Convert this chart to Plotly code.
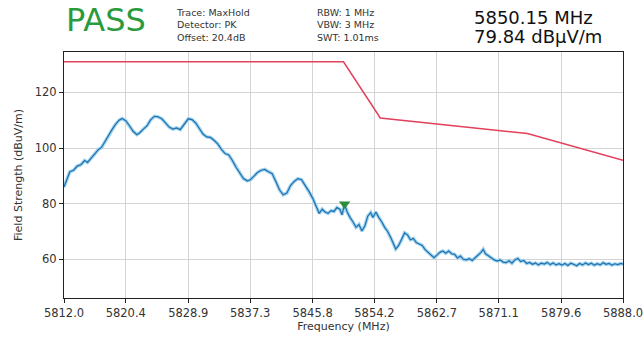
import plotly.graph_objects as go

# measured trace (MaxHold, PK)
freq = [5812.0, 5812.4, 5812.8, 5813.3, 5813.8, 5814.3, 5814.8, 5815.2, 5815.7, 5816.2,
        5816.7, 5817.1, 5817.6, 5818.0, 5818.5, 5819.0, 5819.5, 5819.9, 5820.4, 5820.9,
        5821.4, 5821.9, 5822.3, 5822.8, 5823.3, 5823.8, 5824.3, 5824.8, 5825.3, 5825.8,
        5826.3, 5826.8, 5827.3, 5827.8, 5828.3, 5828.9, 5829.4, 5829.9, 5830.4, 5830.9,
        5831.4, 5831.9, 5832.4, 5832.9, 5833.4, 5833.9, 5834.4, 5834.9, 5835.4, 5835.9,
        5836.4, 5836.9, 5837.3, 5837.8, 5838.3, 5838.8, 5839.3, 5839.8, 5840.3, 5840.8,
        5841.3, 5841.8, 5842.3, 5842.8, 5843.3, 5843.8, 5844.3, 5844.8, 5845.3, 5845.8,
        5846.3, 5846.7, 5847.1, 5847.5, 5847.9, 5848.3, 5848.7, 5849.1, 5849.5, 5849.8,
        5850.15, 5850.5, 5850.9, 5851.3, 5851.7, 5852.1, 5852.5, 5852.9, 5853.3, 5853.7,
        5854.0, 5854.4, 5854.8, 5855.2, 5855.6, 5856.0, 5856.4, 5856.8, 5857.1, 5857.5,
        5857.9, 5858.3, 5858.7, 5859.1, 5859.5, 5859.9, 5860.3, 5860.7, 5861.1, 5861.5,
        5861.9, 5862.3, 5862.7, 5863.1, 5863.5, 5863.9, 5864.3, 5864.7, 5865.1, 5865.5,
        5865.9, 5866.3, 5866.7, 5867.1, 5867.5, 5867.9, 5868.3, 5868.7, 5869.0, 5869.3,
        5869.7, 5870.1, 5870.5, 5870.9, 5871.3, 5871.7, 5872.1, 5872.5, 5872.9, 5873.3,
        5873.7, 5874.1, 5874.5, 5874.9, 5875.3, 5875.7, 5876.1, 5876.5, 5876.9, 5877.3,
        5877.7, 5878.1, 5878.5, 5878.9, 5879.3, 5879.7, 5880.1, 5880.5, 5880.9, 5881.3,
        5881.7, 5882.1, 5882.5, 5882.9, 5883.3, 5883.7, 5884.1, 5884.5, 5884.9, 5885.3,
        5885.7, 5886.1, 5886.5, 5886.9, 5887.3, 5887.7, 5888.0]
level = [86.0, 88.5, 91.5, 92.0, 93.5, 94.0, 95.5, 94.8, 96.5, 98.0,
         99.5, 100.2, 102.5, 104.5, 106.5, 108.5, 110.0, 110.6, 109.8, 108.0,
         106.0, 104.8, 105.5, 106.8, 108.0, 110.2, 111.4, 111.2, 110.5, 109.0,
         107.5, 106.8, 107.2, 106.6, 108.5, 110.5, 110.2, 109.0, 107.0, 105.0,
         104.0, 103.8, 102.8, 101.5, 99.5, 98.0, 97.5, 95.5, 93.0, 91.0,
         89.0, 88.2, 88.5, 89.8, 91.2, 92.0, 92.3, 91.5, 90.8, 88.0,
         85.0, 83.2, 83.8, 86.5, 88.0, 89.0, 88.6, 86.5, 84.5, 82.0,
         79.0, 76.5, 78.0, 77.0, 76.5, 77.5, 77.2, 78.6, 78.0, 76.0,
         79.84, 77.0, 75.0, 73.5, 71.5, 72.5, 70.2, 72.0, 75.5, 76.8,
         75.0, 77.0, 75.0, 73.5, 71.5, 70.0, 68.0, 65.5, 63.7, 65.0,
         67.0, 69.5, 68.8, 67.0, 67.5, 66.0, 65.5, 65.0, 63.5, 62.5,
         61.5, 60.6, 61.5, 62.5, 63.0, 62.2, 63.0, 62.0, 61.8, 60.5,
         61.2, 60.0, 59.8, 60.2, 59.6, 60.5, 61.5, 62.5, 63.6, 62.0,
         61.3, 60.5, 59.8, 59.4, 59.8, 59.0, 58.8, 59.5, 58.6, 59.8,
         60.3, 59.2, 59.6, 58.5, 58.9, 58.2, 58.7, 58.0, 58.6, 58.3,
         58.9, 58.1, 58.7, 58.0, 58.4, 57.9, 58.5, 57.8, 58.6, 58.2,
         57.7, 58.5, 58.0, 58.7, 58.1, 58.6, 57.9, 58.4, 58.0, 58.8,
         58.2, 58.5, 57.9, 58.4, 58.1, 58.5, 58.3]

# limit mask
limit_freq = [5812.0, 5850.0, 5855.0, 5875.0, 5888.0]
limit_level = [131.0, 131.0, 110.8, 105.2, 95.6]

marker_freq = [5850.15]
marker_level = [79.84]

tick_vals = [5812.0, 5820.4, 5828.9, 5837.3, 5845.8, 5854.2, 5862.7, 5871.1, 5879.6, 5888.0]
tick_text = ['5812.0', '5820.4', '5828.9', '5837.3', '5845.8', '5854.2', '5862.7', '5871.1', '5879.6', '5888.0']

fig = go.Figure()

# light halo under the trace
fig.add_trace(go.Scatter(x=freq, y=level, mode='lines',
                         line=dict(color='#9fd3ee', width=3.5), hoverinfo='skip'))
fig.add_trace(go.Scatter(x=freq, y=level, mode='lines',
                         line=dict(color='#1f6fae', width=1.2)))
fig.add_trace(go.Scatter(x=limit_freq, y=limit_level, mode='lines',
                         line=dict(color='#e3405c', width=1.5)))
fig.add_trace(go.Scatter(x=marker_freq, y=marker_level, mode='markers',
                         marker=dict(symbol='triangle-down', color='#2e8b3a', size=10)))

axis_common = dict(showline=True, linecolor='#222222', linewidth=1, mirror=True,
                   showgrid=True, gridcolor='#d4d4d4', gridwidth=1, automargin=False,
                   ticks='outside', ticklen=4, tickcolor='#222222', zeroline=False,
                   tickfont=dict(size=11.5, color='#333333'))

fig.update_xaxes(range=[5812, 5888], tickvals=tick_vals, ticktext=tick_text,
                 title=dict(text='Frequency (MHz)', font=dict(size=11, color='#333333'), standoff=2),
                 **axis_common)
fig.update_yaxes(range=[46.1, 134.5], tickvals=[60, 80, 100, 120],
                 title=dict(text='Field Strength (dBuV/m)', font=dict(size=11, color='#333333'), standoff=9),
                 **axis_common)

fig.add_annotation(text='PASS', xref='paper', yref='paper', x=0.0, y=1.13,
                   xanchor='left', yanchor='middle', showarrow=False,
                   font=dict(size=32, color='#2a9a3c'))
fig.add_annotation(text='Trace: MaxHold<br>Detector: PK<br>Offset: 20.4dB',
                   xref='paper', yref='paper', x=0.197, y=1.11,
                   xanchor='left', yanchor='middle', align='left', showarrow=False,
                   font=dict(size=9.5, color='#333333'))
fig.add_annotation(text='RBW: 1 MHz<br>VBW: 3 MHz<br>SWT: 1.01ms',
                   xref='paper', yref='paper', x=0.449, y=1.11,
                   xanchor='left', yanchor='middle', align='left', showarrow=False,
                   font=dict(size=9.5, color='#333333'))
fig.add_annotation(text='5850.15 MHz', xref='paper', yref='paper', x=0.73, y=1.142,
                   xanchor='left', yanchor='middle', showarrow=False,
                   font=dict(size=18, color='#111111'))
fig.add_annotation(text='79.84 dBµV/m', xref='paper', yref='paper', x=0.73, y=1.065,
                   xanchor='left', yanchor='middle', showarrow=False,
                   font=dict(size=18, color='#111111'))

fig.update_layout(width=644, height=339, showlegend=False,
                  margin=dict(l=64, r=21, t=52, b=41),
                  paper_bgcolor='white', plot_bgcolor='white',
                  font=dict(family='DejaVu Sans'))

# drop the default page margin so the figure fills the window exactly
fig.write_html('out.html', config={'displayModeBar': False},
               post_script="document.body.style.margin='0';document.body.style.overflow='hidden';")
